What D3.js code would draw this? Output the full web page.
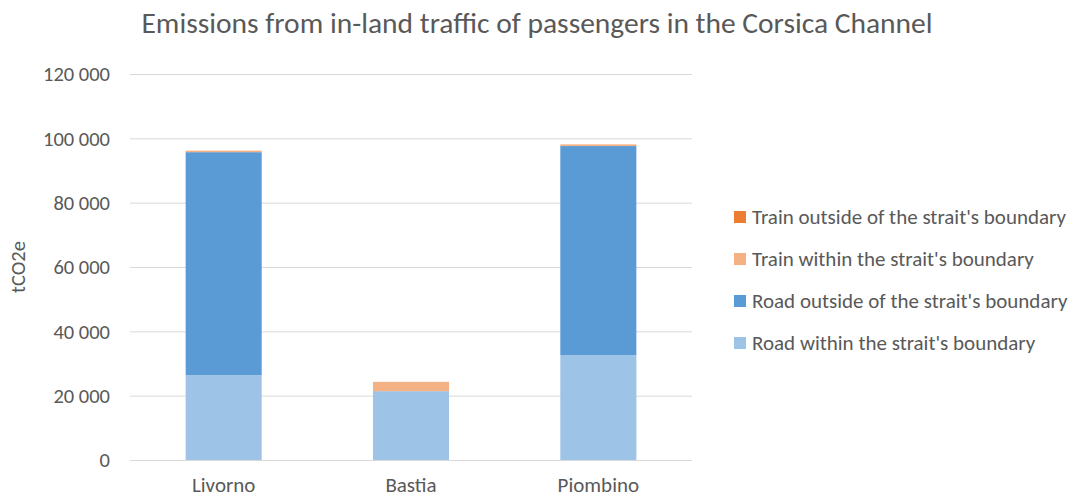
<!DOCTYPE html>
<html>
<head>
<meta charset="utf-8">
<script src="https://cdn.jsdelivr.net/npm/d3@7"></script>
<style>
  body { margin:0; background:#fff; }
  svg text { font-family: Carlito, Calibri, Lato, sans-serif; fill:#595959; }
</style>
</head>
<body>
<svg id="chart" width="1077" height="498"></svg>
<script>
var ports = ['Livorno', 'Bastia', 'Piombino'];
var roadWithin = [26400, 21400, 32600];
var roadOutside = [69300, 0, 65000];
var trainWithin = [350, 2900, 450];
var trainOutside = [80, 0, 60];
var yTicks = [0, 20000, 40000, 60000, 80000, 100000, 120000];

var seriesNames = ['Road within the strait\'s boundary', 'Road outside of the strait\'s boundary',
  'Train within the strait\'s boundary', 'Train outside of the strait\'s boundary'];
var seriesColors = ['#9DC3E6', '#5B9BD5', '#F4B183', '#ED7D31'];

var svg = d3.select('#chart');
var margin = {left:130, right:385, top:74, bottom:38};
var W = 1077, H = 498;

var rows = ports.map(function(p, i){
  return { port:p, s0:roadWithin[i], s1:roadOutside[i], s2:trainWithin[i], s3:trainOutside[i] };
});
var stack = d3.stack().keys(['s0','s1','s2','s3'])(rows);

var x = d3.scaleBand().domain(ports).range([margin.left, W - margin.right]).paddingInner(0.594).paddingOuter(0.297);
var y = d3.scaleLinear().domain([0, 120000]).range([H - margin.bottom, margin.top]);

var fmt = function(v){ return d3.format(',')(v).replace(/,/g, ' '); };

// grid
svg.append('g').selectAll('line').data(yTicks).enter().append('line')
  .attr('x1', margin.left).attr('x2', W - margin.right)
  .attr('y1', function(d){ return y(d) + 0.5; }).attr('y2', function(d){ return y(d) + 0.5; })
  .attr('stroke', '#d9d9d9').attr('stroke-width', 1);

// y labels
svg.append('g').selectAll('text').data(yTicks).enter().append('text')
  .attr('x', 110).attr('y', function(d){ return y(d); })
  .attr('dy', '0.35em').attr('text-anchor', 'end')
  .style('font-size', '20.5px').text(fmt);

// bars
svg.append('g').selectAll('g').data(stack).enter().append('g')
  .attr('fill', function(d, i){ return seriesColors[i]; })
  .selectAll('rect').data(function(d){ return d; }).enter().append('rect')
  .attr('x', function(d){ return x(d.data.port); })
  .attr('width', x.bandwidth())
  .attr('y', function(d){ return y(d[1]); })
  .attr('height', function(d){ return y(d[0]) - y(d[1]); });

// x labels
svg.append('g').selectAll('text').data(ports).enter().append('text')
  .attr('x', function(d){ return x(d) + x.bandwidth() / 2; })
  .attr('y', 492).attr('text-anchor', 'middle')
  .style('font-size', '21px').text(function(d){ return d; });

// axis title
svg.append('text').attr('transform', 'translate(18,' + y(60000) + ') rotate(-90)')
  .attr('text-anchor', 'middle').attr('dy', '0.35em')
  .style('font-size', '20.5px').text('tCO2e');

// title
svg.append('text').attr('x', 537).attr('y', 33).attr('text-anchor', 'middle')
  .style('font-size', '29.5px').text('Emissions from in-land traffic of passengers in the Corsica Channel');

// legend (reverse order)
var legendItems = seriesNames.map(function(n, i){ return { name:n, color:seriesColors[i] }; }).reverse();
var leg = svg.append('g').selectAll('g').data(legendItems).enter().append('g')
  .attr('transform', function(d, i){ return 'translate(734,' + (217 + i * 42) + ')'; });
leg.append('rect').attr('x', 0).attr('y', -6).attr('width', 12).attr('height', 12)
  .attr('fill', function(d){ return d.color; });
leg.append('text').attr('x', 18).attr('dy', '0.35em')
  .style('font-size', '21px').text(function(d){ return d.name; });
</script>
</body>
</html>
